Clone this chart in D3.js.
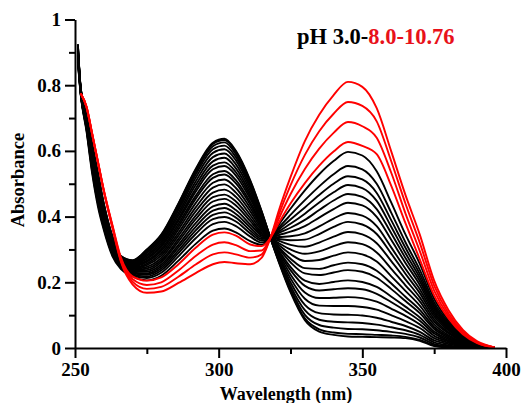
<!DOCTYPE html>
<html>
<head>
<meta charset="utf-8">
<script src="https://cdn.jsdelivr.net/npm/d3@7/dist/d3.min.js"></script>
<style>
  html, body { margin: 0; padding: 0; background: #fff; }
  svg { display: block; }
  text { font-family: "Liberation Serif", "Times New Roman", serif; font-weight: bold; }
</style>
</head>
<body>
<svg id="chart" width="521" height="403"></svg>
<script>
// Wavelength grid (nm) shared by every spectrum
const wavelengths = [251, 252, 254, 256, 258, 260, 263, 266, 270, 275, 280, 286, 292, 298, 302, 306, 311, 315, 318, 321, 325, 330, 335, 340, 345, 350, 355, 360, 365, 370, 375, 380, 385, 390, 396];

// Absorbance spectra recorded from pH 3.0 up to 8.0 (black)
const blackSpectra = [
  [.925, .790, .720, .620, .530, .440, .340, .280, .267, .300, .345, .440, .545, .625, .637, .600, .510, .415, .335, .260, .170, .085, .050, .040, .035, .034, .033, .032, .030, .022, .006, .002, 0, 0, 0],
  [.924, .790, .719, .619, .529, .439, .339, .279, .266, .299, .343, .438, .542, .621, .633, .597, .507, .414, .335, .262, .174, .090, .057, .047, .043, .042, .040, .038, .034, .025, .008, .003, .001, 0, 0],
  [.923, .789, .718, .616, .526, .437, .338, .278, .265, .296, .340, .433, .536, .614, .626, .590, .502, .411, .335, .265, .181, .101, .070, .062, .058, .057, .054, .049, .043, .032, .012, .005, .002, .001, 0],
  [.921, .788, .715, .613, .522, .434, .335, .277, .263, .293, .335, .427, .528, .605, .616, .581, .496, .407, .335, .269, .189, .115, .086, .080, .078, .076, .071, .063, .054, .040, .017, .008, .003, .001, 0],
  [.919, .788, .713, .609, .518, .431, .333, .275, .261, .289, .330, .420, .518, .594, .605, .571, .488, .403, .335, .274, .200, .131, .106, .102, .101, .099, .092, .080, .067, .049, .023, .012, .005, .002, 0],
  [.916, .787, .710, .605, .513, .427, .330, .273, .259, .284, .324, .411, .507, .581, .592, .559, .479, .398, .335, .279, .212, .150, .129, .128, .128, .125, .117, .100, .082, .061, .030, .016, .007, .002, 0],
  [.913, .786, .707, .601, .509, .423, .327, .271, .257, .280, .318, .403, .496, .568, .579, .547, .470, .393, .335, .285, .224, .169, .152, .153, .155, .152, .141, .120, .098, .072, .037, .020, .009, .003, 0],
  [.911, .785, .704, .596, .504, .419, .324, .270, .254, .275, .312, .394, .485, .555, .565, .535, .462, .388, .335, .290, .237, .189, .175, .179, .182, .179, .165, .140, .113, .083, .044, .023, .010, .004, 0],
  [.908, .784, .702, .593, .500, .416, .322, .268, .252, .271, .307, .387, .476, .544, .554, .525, .454, .384, .335, .295, .247, .205, .195, .201, .206, .201, .186, .157, .126, .093, .050, .027, .012, .004, 0],
  [.905, .783, .698, .588, .494, .411, .318, .266, .250, .266, .300, .378, .463, .529, .539, .511, .444, .379, .335, .302, .261, .227, .222, .230, .237, .232, .214, .180, .143, .106, .058, .031, .014, .005, 0],
  [.903, .782, .696, .584, .490, .408, .316, .264, .248, .262, .295, .370, .454, .518, .528, .501, .436, .374, .335, .306, .272, .243, .241, .252, .260, .255, .235, .197, .156, .116, .064, .035, .016, .006, 0],
  [.900, .781, .693, .579, .484, .404, .313, .262, .245, .257, .288, .361, .441, .503, .513, .487, .426, .369, .335, .313, .286, .265, .268, .281, .291, .285, .263, .219, .174, .129, .072, .039, .018, .007, .001],
  [.897, .780, .689, .574, .479, .399, .309, .260, .242, .252, .281, .351, .428, .488, .498, .473, .416, .363, .335, .319, .300, .287, .294, .310, .322, .316, .291, .242, .191, .142, .080, .044, .020, .007, .001],
  [.894, .779, .686, .569, .473, .395, .306, .257, .240, .247, .274, .342, .416, .473, .482, .460, .405, .358, .335, .326, .314, .308, .321, .339, .353, .346, .319, .265, .209, .154, .088, .048, .023, .008, .001],
  [.891, .778, .683, .564, .468, .390, .303, .255, .237, .242, .267, .332, .403, .459, .467, .446, .395, .352, .335, .332, .328, .330, .347, .369, .384, .376, .347, .288, .226, .167, .096, .053, .025, .009, .001],
  [.888, .777, .680, .560, .463, .386, .300, .253, .235, .237, .261, .324, .392, .446, .454, .434, .386, .347, .335, .338, .340, .349, .370, .394, .411, .403, .371, .307, .241, .179, .103, .057, .027, .010, .001],
  [.885, .776, .677, .555, .458, .382, .297, .251, .232, .232, .254, .314, .380, .431, .439, .420, .376, .342, .335, .344, .354, .371, .397, .423, .442, .434, .399, .330, .259, .192, .110, .061, .029, .011, .001],
  [.883, .775, .674, .551, .453, .378, .294, .249, .229, .227, .248, .306, .369, .418, .426, .408, .367, .337, .335, .350, .366, .390, .420, .449, .469, .460, .423, .350, .274, .203, .117, .065, .031, .011, .001],
  [.880, .774, .671, .546, .448, .374, .291, .247, .227, .223, .242, .297, .358, .405, .413, .397, .358, .332, .335, .355, .378, .409, .443, .474, .496, .487, .448, .370, .289, .214, .124, .069, .033, .012, .001],
  [.877, .773, .668, .542, .443, .370, .288, .245, .225, .218, .236, .289, .347, .392, .399, .385, .349, .327, .335, .361, .391, .428, .466, .500, .523, .513, .472, .390, .305, .225, .131, .073, .035, .013, .001],
  [.874, .772, .665, .537, .438, .366, .285, .243, .222, .213, .229, .279, .334, .377, .384, .371, .339, .321, .335, .367, .405, .450, .492, .529, .554, .544, .500, .413, .322, .238, .139, .078, .037, .013, .001],
  [.870, .770, .660, .530, .430, .360, .280, .240, .218, .206, .220, .266, .317, .357, .364, .352, .325, .314, .335, .376, .424, .480, .529, .569, .597, .586, .538, .444, .346, .256, .150, .084, .040, .015, .001]
];

// Absorbance spectra from pH 8.0 up to 10.76 (red); these start at 252 nm
const redSpectra = [
  [null, .775, .735, .652, .567, .482, .375, .275, .218, .205, .215, .255, .305, .345, .352, .342, .315, .310, .335, .382, .440, .502, .555, .598, .627, .615, .590, .495, .380, .270, .160, .090, .042, .015, .002],
  [null, .775, .735, .651, .566, .481, .372, .270, .210, .192, .200, .236, .280, .315, .322, .313, .295, .297, .335, .395, .468, .545, .607, .655, .688, .675, .640, .535, .410, .295, .175, .097, .046, .016, .002],
  [null, .775, .734, .650, .565, .479, .369, .266, .202, .180, .186, .217, .254, .285, .291, .285, .275, .285, .335, .408, .495, .588, .660, .713, .749, .737, .690, .570, .440, .320, .190, .105, .050, .018, .002],
  [null, .775, .733, .649, .563, .477, .366, .262, .194, .168, .172, .198, .228, .255, .262, .258, .255, .275, .335, .420, .520, .630, .710, .770, .810, .795, .730, .600, .466, .345, .205, .115, .055, .020, .002]
];

// Axis ticks
const xMajorTicks = [250, 300, 350, 400];
const xMinorTicks = [275, 325, 375];
const yMajorTicks = [0, 0.2, 0.4, 0.6, 0.8, 1];
const yMinorTicks = [0.1, 0.3, 0.5, 0.7, 0.9];

const titleParts = [
  { text: "pH 3.0-", color: "#000" },
  { text: "8.0-10.76", color: "#e8111a" }
];

const svg = d3.select("#chart");
const plotLeft = 75, plotRight = 506, plotTop = 19.5, plotBottom = 348;

const x = d3.scaleLinear().domain([250, 400]).range([plotLeft, plotRight]);
const y = d3.scaleLinear().domain([0, 1]).range([plotBottom, plotTop]);

const line = d3.line()
  .defined(d => d[1] != null)
  .x(d => x(d[0]))
  .y(d => y(d[1]))
  .curve(d3.curveMonotoneX);

const toPoints = arr => arr.map((v, i) => [wavelengths[i], v]);

const curves = svg.append("g").attr("fill", "none").attr("stroke-linejoin", "round");
curves.selectAll("path.black")
  .data(blackSpectra)
  .join("path")
  .attr("class", "black")
  .attr("stroke", "#000")
  .attr("stroke-width", 1.9)
  .attr("d", d => line(toPoints(d)));

curves.selectAll("path.red")
  .data(redSpectra)
  .join("path")
  .attr("class", "red")
  .attr("stroke", "#f00")
  .attr("stroke-width", 1.9)
  .attr("d", d => line(toPoints(d)));

// Axes
const fmtY = d => (d === 0 || d === 1) ? String(d) : d.toFixed(1);

function styleAxis(g) {
  g.selectAll("path, line").attr("stroke", "#000").attr("stroke-width", 2);
  g.selectAll("text").attr("fill", "#000").attr("font-size", 19)
    .attr("font-family", '"Liberation Serif", "Times New Roman", serif').attr("font-weight", "bold");
}

svg.append("g").attr("transform", `translate(${plotLeft},0)`)
  .call(d3.axisLeft(y).tickValues(yMajorTicks).tickFormat(fmtY).tickSize(10).tickSizeOuter(0).tickPadding(4))
  .call(styleAxis);
svg.append("g").attr("transform", `translate(${plotLeft},0)`)
  .call(d3.axisLeft(y).tickValues(yMinorTicks).tickFormat("").tickSize(6).tickSizeOuter(0))
  .call(styleAxis).select(".domain").remove();

svg.append("g").attr("transform", `translate(0,${plotBottom})`)
  .call(d3.axisBottom(x).tickValues(xMajorTicks).tickFormat(d3.format("d")).tickSize(10).tickSizeOuter(0).tickPadding(5))
  .call(styleAxis);
svg.append("g").attr("transform", `translate(0,${plotBottom})`)
  .call(d3.axisBottom(x).tickValues(xMinorTicks).tickFormat("").tickSize(6).tickSizeOuter(0))
  .call(styleAxis).select(".domain").remove();

// Axis titles
svg.append("text")
  .attr("transform", "translate(24,180) rotate(-90)")
  .attr("text-anchor", "middle")
  .attr("font-size", 18.5)
  .text("Absorbance");

svg.append("text")
  .attr("x", 286).attr("y", 400)
  .attr("text-anchor", "middle")
  .attr("font-size", 18)
  .text("Wavelength (nm)");

// Title naming the pH range
const title = svg.append("text").attr("x", 297).attr("y", 44).attr("font-size", 22.5);
title.selectAll("tspan").data(titleParts).join("tspan")
  .attr("fill", d => d.color)
  .text(d => d.text);
</script>
</body>
</html>
